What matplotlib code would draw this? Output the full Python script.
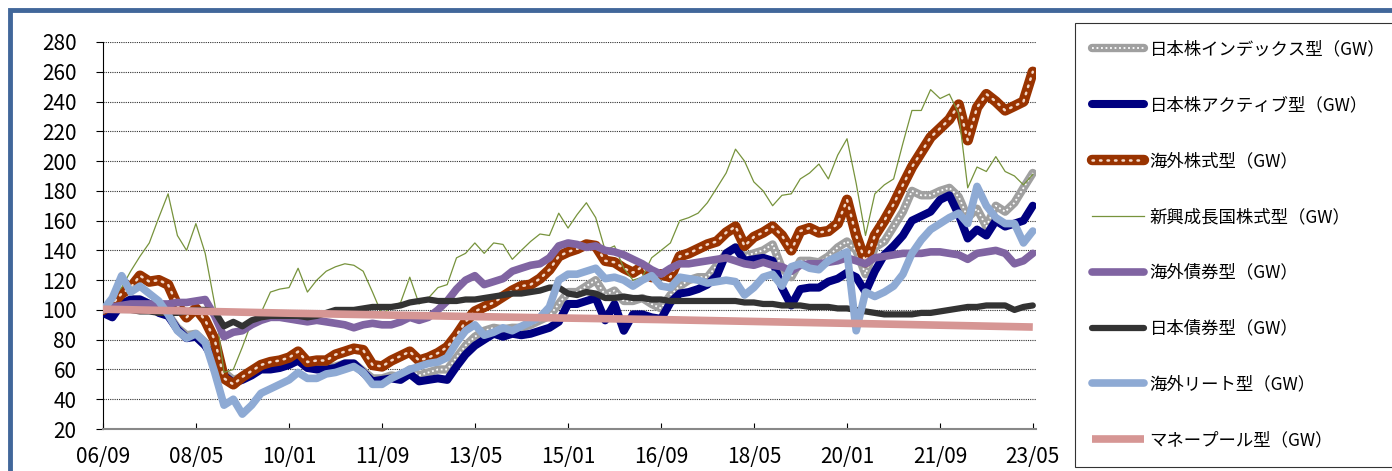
import matplotlib
matplotlib.use('Agg')
import matplotlib.pyplot as plt
import matplotlib.dates as mdates
from matplotlib.patches import Rectangle
from matplotlib.legend_handler import HandlerTuple
import numpy as np
import pandas as pd

plt.rcParams['font.family'] = ['Noto Sans CJK JP', 'DejaVu Sans']

# every 2 months, 2006/09 .. 2023/05
dates = pd.date_range('2006-09-01', '2023-05-01', freq='2MS')

jp_index = [99, 97, 104, 107, 107, 104, 99, 97, 88, 83,
            84, 78, 68, 58, 53, 55, 58, 61, 62, 63,
            64, 66, 62, 61, 61, 62, 64, 64, 59, 54,
            54, 56, 55, 60, 56, 58, 60, 60, 68, 76,
            82, 86, 88, 87, 88, 88, 90, 93, 96, 104,
            112, 112, 116, 120, 110, 113, 106, 106, 108, 104,
            101, 110, 116, 120, 122, 122, 130, 138, 142, 136,
            138, 140, 144, 128, 122, 133, 133, 132, 136, 142,
            146, 140, 124, 142, 146, 156, 166, 180, 177, 177,
            180, 182, 176, 162, 168, 156, 170, 166, 172, 182,
            192]
jp_active = [98, 95, 104, 107, 107, 104, 98, 96, 87, 81,
             82, 76, 66, 56, 51, 53, 56, 60, 60, 61,
             63, 66, 61, 60, 60, 61, 64, 64, 58, 52,
             53, 54, 53, 57, 52, 53, 54, 53, 62, 70,
             76, 80, 84, 82, 84, 83, 84, 86, 88, 92,
             104, 104, 106, 108, 93, 104, 86, 97, 97, 95,
             94, 105, 111, 112, 114, 117, 123, 138, 142, 133,
             134, 135, 133, 115, 103, 114, 115, 115, 119, 121,
             125, 122, 112, 126, 137, 143, 150, 160, 163, 166,
             174, 177, 164, 148, 154, 150, 160, 156, 158, 160,
             170]
fx_equity = [100, 104, 111, 115, 123, 119, 120, 117, 103, 95,
             101, 93, 80, 54, 50, 55, 59, 63, 65, 66,
             68, 72, 65, 66, 66, 70, 72, 74, 73, 63,
             62, 66, 69, 72, 66, 68, 71, 75, 83, 92,
             99, 102, 105, 109, 113, 116, 117, 121, 127, 136,
             139, 141, 144, 143, 133, 132, 128, 125, 129, 122,
             124, 122, 136, 138, 141, 144, 146, 152, 156, 143,
             149, 152, 156, 150, 140, 153, 155, 152, 153, 158,
             174, 150, 132, 150, 160, 171, 184, 196, 206, 216,
             222, 228, 238, 214, 236, 245, 240, 234, 237, 240,
             260]
emerging = [100, 108, 115, 126, 136, 145, 162, 178, 150, 140,
            158, 138, 104, 58, 60, 75, 92, 98, 112, 114,
            115, 128, 112, 120, 126, 129, 131, 130, 126, 112,
            97, 102, 105, 122, 104, 108, 115, 117, 135, 138,
            145, 138, 145, 144, 134, 140, 146, 151, 150, 165,
            155, 164, 172, 162, 140, 143, 128, 120, 122, 135,
            140, 145, 160, 162, 165, 172, 182, 192, 208, 200,
            186, 180, 170, 177, 178, 188, 192, 198, 188, 204,
            215, 185, 150, 178, 184, 188, 212, 234, 234, 248,
            242, 245, 232, 182, 196, 193, 203, 193, 190, 184,
            191]
fx_bond = [100, 102, 103, 104, 104, 104, 104, 104, 105, 105,
           106, 107, 96, 82, 85, 86, 90, 93, 95, 95,
           94, 93, 92, 93, 92, 91, 90, 88, 90, 91,
           90, 90, 92, 95, 93, 95, 100, 106, 114, 120,
           123, 117, 119, 121, 126, 128, 130, 131, 135, 143,
           145, 144, 142, 143, 140, 139, 137, 134, 131, 127,
           124, 128, 131, 131, 132, 133, 134, 135, 133, 131,
           130, 132, 130, 129, 126, 130, 131, 131, 132, 133,
           135, 133, 131, 135, 136, 137, 138, 138, 138, 139,
           139, 138, 137, 134, 138, 139, 140, 138, 131, 133,
           138]
jp_bond = [100, 100, 100, 100, 99, 99, 98, 98, 98, 99,
           100, 100, 99, 89, 92, 89, 93, 95, 96, 96,
           96, 96, 95, 96, 98, 100, 100, 100, 101, 102,
           102, 102, 103, 105, 106, 107, 106, 106, 106, 107,
           107, 108, 109, 110, 111, 111, 112, 113, 115, 115,
           111, 110, 112, 111, 108, 108, 109, 108, 108, 107,
           107, 106, 106, 106, 106, 106, 106, 106, 106, 105,
           105, 104, 104, 103, 103, 103, 102, 102, 102, 101,
           101, 100, 99, 98, 97, 97, 97, 97, 98, 98,
           99, 100, 101, 102, 102, 103, 103, 103, 100, 102,
           103]
fx_reit = [100, 108, 123, 112, 116, 111, 106, 97, 86, 81,
           84, 78, 58, 36, 40, 30, 36, 44, 47, 50,
           53, 58, 54, 54, 57, 58, 60, 62, 58, 50,
           50, 54, 57, 60, 62, 64, 65, 68, 78, 86,
           90, 83, 85, 88, 86, 89, 92, 95, 102, 120,
           124, 124, 126, 128, 121, 122, 120, 116, 120, 123,
           116, 115, 122, 121, 120, 118, 119, 120, 119, 110,
           115, 122, 124, 116, 129, 131, 128, 127, 133, 136,
           139, 86, 112, 109, 112, 116, 124, 138, 147, 154,
           158, 162, 165, 158, 183, 170, 162, 158, 158, 145,
           153]
money_dates = pd.to_datetime(['2006-09-01', '2010-01-01', '2013-05-01',
                              '2016-09-01', '2020-01-01', '2023-05-01'])
money_pool = [100.5, 97.8, 95.5, 93.5, 91.0, 88.5]

labels = ['日本株インデックス型（GW）', '日本株アクティブ型（GW）', '海外株式型（GW）',
          '新興成長国株式型（GW）', '海外債券型（GW）', '日本債券型（GW）',
          '海外リート型（GW）', 'マネープール型（GW）']
tick_dates = pd.date_range('2006-09-01', '2023-05-01', freq='20MS')

fig = plt.figure(figsize=(13.92, 4.71), dpi=100)
ax = fig.add_axes([103 / 1392, 42 / 471, (1036 - 103) / 1392, (429 - 42) / 471])

h = []
l1, = ax.plot(dates, jp_index, color='#a0a0a0', lw=6, solid_capstyle='round', zorder=2)
l1b, = ax.plot(dates, jp_index, color='white', lw=1.3, ls=(0, (1, 1.5)), zorder=2.1)
h.append((l1, l1b))
l2, = ax.plot(dates, jp_active, color='#000080', lw=5.8, solid_capstyle='round', zorder=3)
h.append(l2)
l3, = ax.plot(dates, fx_equity, color='#993300', lw=7.5, solid_capstyle='round', zorder=4)
l3b, = ax.plot(dates, fx_equity, color='#f3d9c9', lw=1.8, ls=(0, (0.6, 2.4)),
               dash_capstyle='round', zorder=4.1)
h.append((l3, l3b))
l4, = ax.plot(dates, emerging, color='#77933c', lw=0.9, zorder=5)
h.append(l4)
l5, = ax.plot(dates, fx_bond, color='#8064a2', lw=5.5, solid_capstyle='round', zorder=6)
h.append(l5)
l6, = ax.plot(dates, jp_bond, color='#333333', lw=4.5, solid_capstyle='round', zorder=7)
h.append(l6)
l7, = ax.plot(dates, fx_reit, color='#8eaad4', lw=5.5, solid_capstyle='round', zorder=8)
h.append(l7)
l8, = ax.plot(money_dates, money_pool, color='#d69694', lw=5.5, solid_capstyle='butt', zorder=9)
h.append(l8)

ax.set_ylim(20, 280)
ax.set_yticks(np.arange(20, 281, 20))
ax.set_xlim(pd.Timestamp('2006-09-01'), pd.Timestamp('2023-05-22'))
ax.set_xticks(tick_dates)
ax.xaxis.set_major_formatter(mdates.DateFormatter('%y/%m'))
ax.yaxis.grid(True, linestyle=(0, (1, 1)), color='#303030', lw=0.8)
ax.set_axisbelow(True)
for s in ('top', 'right'):
    ax.spines[s].set_visible(False)
ax.spines['left'].set_color('black')
ax.spines['bottom'].set_color('#888888')
ax.spines['bottom'].set_linewidth(1.5)
ax.tick_params(axis='y', direction='out', length=5, labelsize=15, pad=14)
ax.tick_params(axis='x', direction='in', length=4, labelsize=15, pad=12)

leg = fig.legend(h, labels, loc='upper left', bbox_to_anchor=(1075 / 1392, 1 - 23 / 471),
                 handler_map={tuple: HandlerTuple(ndivide=1, pad=0)},
                 fontsize=12.5, frameon=True, fancybox=False, edgecolor='black',
                 handlelength=3.0, handletextpad=0.3, labelspacing=2.18,
                 borderpad=1.0, borderaxespad=0)
leg.get_frame().set_linewidth(0.8)

fig.patches.append(Rectangle((10 / 1392, -0.2), 2, 1.2 - 10 / 471,
                             transform=fig.transFigure, fill=False,
                             edgecolor='#41679a', lw=3.5, clip_on=False))

fig.savefig('out.png', dpi=100)
